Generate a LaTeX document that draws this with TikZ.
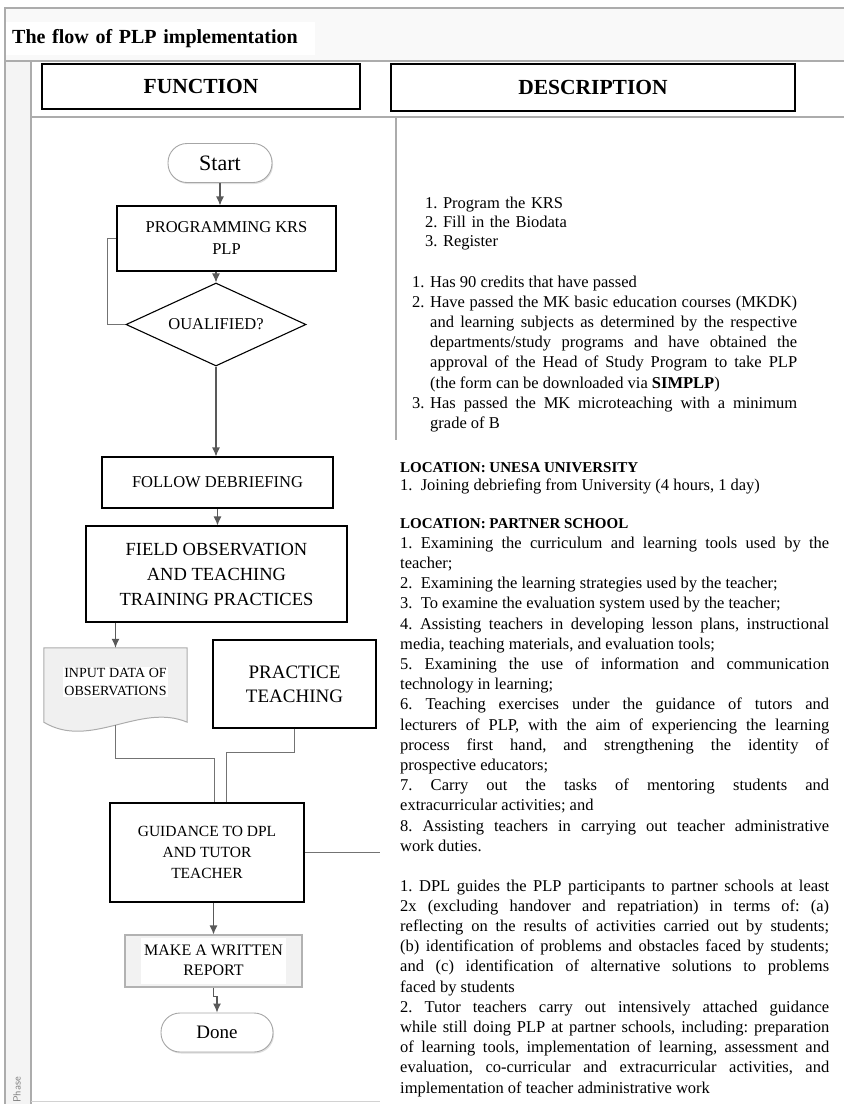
\documentclass[tikz,border=0pt]{standalone}
\usepackage{fontspec}
\setmainfont{Liberation Serif}
\usetikzlibrary{shapes.geometric,arrows.meta,shadows}
\newcommand\litem[2]{\hangindent=18pt\hangafter=1\noindent\makebox[18pt][l]{#1}#2\par}
\tolerance=9999 \emergencystretch=10pt \hbadness=10000
\frenchspacing
\tikzset{
  border/.style={draw=gray!65, line width=1.3pt},
  hdr/.style={draw=black, line width=1.1pt, fill=white, font=\fontsize{21.5}{26}\selectfont\bfseries},
  box/.style={draw=black, line width=1.1pt, align=center, inner sep=2pt},
  term/.style={draw=gray!70, line width=0.9pt, rounded corners=19pt, fill=white, minimum height=39pt,
    drop shadow={shadow xshift=1pt, shadow yshift=-1.5pt, opacity=0.25}},
  decision/.style={diamond, aspect=2.17, draw=black, line width=1.1pt, inner sep=0pt,
    minimum width=180pt, minimum height=83pt, font=\fontsize{16.5}{20}\selectfont},
  arr/.style={draw=black!65, line width=1.1pt, -{Latex[length=9pt,width=8pt]}},
  link/.style={draw=black!55, line width=1pt},
  desc/.style={anchor=base west, inner sep=0pt, text width=429pt, align=justify,
    font=\fontsize{16.5}{20.2}\selectfont},
}
\begin{document}
\begin{tikzpicture}[x=1pt,y=-1pt]
	\useasboundingbox (0,0) rectangle (844,1104);
	\fill[gray!5] (5,8) rectangle (844,61);
	\fill[gray!9] (5,61) rectangle (31,1104);
	\draw[border] (844,8) -- (5,8) -- (5,1104);
	\draw[border] (5,61) -- (844,61);
	\draw[border] (31,61) -- (31,1104);
	\draw[border] (31,117) -- (844,117);
	\draw[border] (396,117) -- (396,440);
	\draw[gray!35] (31,1101) -- (380,1101);
	\node[fill=white, anchor=west, inner xsep=6pt, minimum height=33pt, text width=297pt,
	  font=\fontsize{20}{24}\selectfont\bfseries] (title) at (6,38.5) {The flow of PLP implementation};
	\node[rotate=90, anchor=west, inner sep=0pt, text=gray, font=\sffamily\fontsize{10.5}{12}\selectfont]
	  (phase) at (17,1103) {Phase};
	\node[hdr, minimum width=318pt, minimum height=45pt] (fhead) at (201,86.5) {FUNCTION};
	\node[hdr, minimum width=404pt, minimum height=47pt] (dhead) at (593,87.5) {DESCRIPTION};

	\node[term, minimum width=104pt, font=\fontsize{22}{26}\selectfont] (start) at (220,163) {Start};
	\node[box, minimum width=219pt, minimum height=65pt, font=\fontsize{16.5}{22}\selectfont]
	  (prog) at (226.5,238.5) {PROGRAMMING KRS\\PLP};
	\node[decision] (qual) at (216,324.5) {OUALIFIED?};
	\node[box, minimum width=231pt, minimum height=51pt, font=\fontsize{16.5}{20}\selectfont]
	  (follow) at (217.5,482.5) {FOLLOW DEBRIEFING};
	\node[box, minimum width=261pt, minimum height=96pt, font=\fontsize{18.5}{25}\selectfont]
	  (field) at (216.5,574) {FIELD OBSERVATION\\AND TEACHING\\TRAINING PRACTICES};
	\node[minimum width=143pt, minimum height=74pt] (input) at (115.5,685) {};
	\draw[draw=gray!65, fill=gray!12, line width=1pt] (input.north west) -- (input.north east)
	  -- (input.south east) .. controls ([shift={(-47,-20)}]input.south east)
	  and ([shift={(-97,28)}]input.south east) .. (input.south west) -- cycle;
	\node[fill=white, inner sep=1pt, align=center, font=\fontsize{14}{18}\selectfont]
	  (inputtxt) at ([yshift=3pt]input.center) {INPUT DATA OF\\OBSERVATIONS};
	\node[box, minimum width=163pt, minimum height=88pt, font=\fontsize{19}{24}\selectfont]
	  (practice) at (294.5,684) {PRACTICE\\TEACHING};
	\node[box, minimum width=194pt, minimum height=99pt, font=\fontsize{15.5}{21}\selectfont]
	  (guidance) at (207,852.5) {GUIDANCE TO DPL\\AND TUTOR\\TEACHER};
	\coordinate (gend) at (380,852.5);
	\node[box, draw=gray!60, fill=gray!10, minimum width=177pt, minimum height=52pt, font=\fontsize{16}{20}\selectfont]
	  (make) at (213.5,961) {\colorbox{white}{\begin{tabular}{@{}c@{}}MAKE A WRITTEN\\REPORT\end{tabular}}};
	\node[term, minimum width=112pt, font=\fontsize{19}{23}\selectfont] (done) at (217,1032.5) {Done};

	\draw[arr] (start.south) -- (start.south |- prog.north);
	\draw[arr] (qual.north |- prog.south) -- (qual.north);
	\draw[link] (qual.west) -- ++(-18,0) |- (prog.west);
	\draw[arr] (qual.south) -- (qual.south |- follow.north);
	\draw[arr] (follow.south) -- (follow.south |- field.north);
	\draw[arr] (field.south -| input.north) -- (input.north);
	\draw[link] ([yshift=-3pt]input.south) -- ++(0,33) -| ([xshift=7pt]guidance.north);
	\draw[link] (practice.south) -- ++(0,24) -| ([xshift=19pt]guidance.north);
	\draw[link] (guidance.east) -- (gend);
	\draw[arr] (guidance.south -| make.north) -- (make.north);
	\draw[arr] (make.south) -- ++(0,9) -| (done.north);

	\node[desc, align=left, font=\fontsize{16.5}{19}\selectfont] (reg) at (425,208)
	  {1. Program the KRS\\2. Fill in the Biodata\\3. Register};
	\node[desc, text width=385pt] (cond) at (412,287) {%
	  \litem{1.}{Has 90 credits that have passed}
	  \litem{2.}{Have passed the MK basic education courses (MKDK)\linebreak and learning subjects as determined by the respective\linebreak departments/study programs and have obtained the\linebreak approval of the Head of Study Program to take PLP\linebreak (the form can be downloaded via \textbf{SIMPLP})}
	  \litem{3.}{Has passed the MK microteaching with a minimum\linebreak grade of B}};
	\node[desc, font=\fontsize{16.5}{18.5}\selectfont] (unesa) at (400,472) {%
	  {\fontsize{15}{18.5}\selectfont\bfseries LOCATION: UNESA UNIVERSITY}\par
	  1.\ \ Joining debriefing from University (4 hours, 1 day)};
	\node[desc] (school) at (400,528) {%
	  {\fontsize{15}{20.2}\selectfont\bfseries LOCATION: PARTNER SCHOOL}\par
	  1. Examining the curriculum and learning tools used by the\linebreak teacher;\par
	  2.\ \ Examining the learning strategies used by the teacher;\par
	  3.\ \ To examine the evaluation system used by the teacher;\par
	  4. Assisting teachers in developing lesson plans, instructional\linebreak media, teaching materials, and evaluation tools;\par
	  5. Examining the use of information and communication\linebreak technology in learning;\par
	  6. Teaching exercises under the guidance of tutors and\linebreak lecturers of PLP, with the aim of experiencing the learning\linebreak process first hand, and strengthening the identity of\linebreak prospective educators;\par
	  7. Carry out the tasks of mentoring students and\linebreak extracurricular activities; and\par
	  8. Assisting teachers in carrying out teacher administrative\linebreak work duties.};
	\node[desc] (guide) at (400,891) {%
	  1. DPL guides the PLP participants to partner schools at least\linebreak 2x (excluding handover and repatriation) in terms of: (a)\linebreak reflecting on the results of activities carried out by students;\linebreak (b) identification of problems and obstacles faced by students;\linebreak and (c) identification of alternative solutions to problems\linebreak faced by students\par
	  2. Tutor teachers carry out intensively attached guidance\linebreak while still doing PLP at partner schools, including: preparation\linebreak of learning tools, implementation of learning, assessment and\linebreak evaluation, co-curricular and extracurricular activities, and\linebreak implementation of teacher administrative work};
\end{tikzpicture}
\end{document}
